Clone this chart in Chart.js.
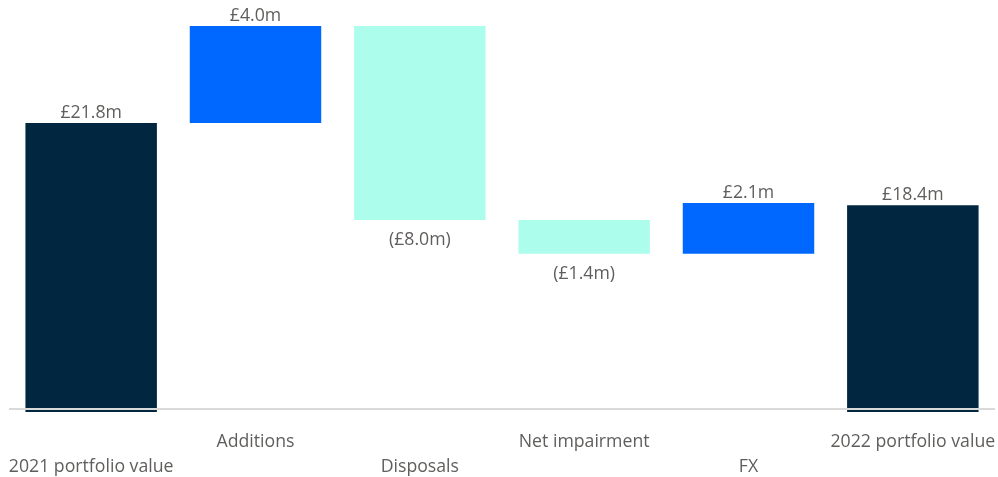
<!DOCTYPE html>
<html><head><meta charset="utf-8">
<script src="https://cdn.jsdelivr.net/npm/chart.js@4/dist/chart.umd.min.js"></script>
<style>html,body{margin:0;padding:0;background:#fff}#wrap{width:998px;height:477px}</style>
</head><body><div id="wrap"><canvas id="c" width="998" height="477"></canvas></div>
<script>
const categories = ['2021 portfolio value', 'Additions', 'Disposals', 'Net impairment', 'FX', '2022 portfolio value'];
const changes = [21.8, 4.0, -8.0, -1.4, 2.1, 18.4];
const isTotal = [true, false, false, false, false, true];
const valueLabels = ['£21.8m', '£4.0m', '(£8.0m)', '(£1.4m)', '£2.1m', '£18.4m'];
const axisMin = 10, axisMax = 26.5;

const barBase = axisMin - 0.12;
let running = 0;
const floating = changes.map((v, i) => {
  if (isTotal[i]) { running = v; return [barBase, v]; }
  const s = running; running = s + v;
  return [Math.min(s, running), Math.max(s, running)];
});
const colors = changes.map((v, i) => isTotal[i] ? '#002640' : (v >= 0 ? '#0068FF' : '#ADFDEC'));
const tickLabels = categories.map((c, i) => i % 2 === 0 ? ['', c] : [c]);

const FONT = "'Open Sans', 'Segoe UI', sans-serif";
const FS = 17.7;

const overlay = {
  id: 'overlay',
  afterDatasetsDraw(chart) {
    const {ctx, chartArea} = chart;
    ctx.save();
    ctx.strokeStyle = '#d9d9d9';
    ctx.lineWidth = 2;
    ctx.beginPath();
    ctx.moveTo(chartArea.left, chartArea.bottom);
    ctx.lineTo(chartArea.right, chartArea.bottom);
    ctx.stroke();
    const meta = chart.getDatasetMeta(0);
    ctx.font = FS + 'px ' + FONT;
    ctx.fillStyle = '#605E5C';
    ctx.textAlign = 'center';
    ctx.textBaseline = 'middle';
    meta.data.forEach((bar, i) => {
      const neg = !isTotal[i] && changes[i] < 0;
      const p = bar.getProps(['x', 'y', 'base'], true);
      const top = Math.min(p.y, p.base), bot = Math.max(p.y, p.base);
      const y = neg ? bot + 20 : top - 10;
      ctx.fillText(valueLabels[i], p.x, y);
    });
    ctx.restore();
  }
};

new Chart(document.getElementById('c'), {
  type: 'bar',
  data: {
    labels: tickLabels,
    datasets: [{ data: floating, backgroundColor: colors, borderWidth: 0, borderSkipped: false,
      barPercentage: 0.8, categoryPercentage: 1.0, clip: false }]
  },
  options: {
    responsive: false, animation: false,
    layout: { padding: { top: 9, left: 9, right: 3, bottom: 0 } },
    plugins: { legend: { display: false }, tooltip: { enabled: false } },
    scales: {
      x: {
        grid: { display: false, drawTicks: false },
        border: { display: false },
        ticks: { color: '#605E5C', font: { size: FS, family: FONT, lineHeight: 1.43 }, padding: 20, maxRotation: 0, autoSkip: false },
        afterFit(scale) { scale.height = 68; scale.paddingLeft = 0; scale.paddingRight = 0; }
      },
      y: { display: false, min: axisMin, max: axisMax }
    }
  },
  plugins: [overlay]
});
</script></body></html>
